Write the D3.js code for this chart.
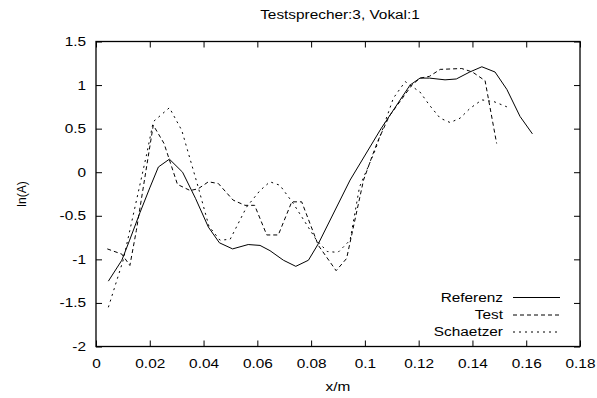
<!DOCTYPE html>
<html><head><meta charset="utf-8">
<script src="https://cdn.jsdelivr.net/npm/d3@7"></script>
<style>body{margin:0;background:#fff}svg{font-family:"Liberation Sans",Arial,sans-serif}</style>
</head><body><svg id="c" width="597" height="398"></svg>
<script>
const title = "Testsprecher:3, Vokal:1";
const xLabel = "x/m";
const yLabel = "ln(A)";
const xTicks = [0,0.02,0.04,0.06,0.08,0.1,0.12,0.14,0.16,0.18];
const yTicks = [-2,-1.5,-1,-0.5,0,0.5,1,1.5];
const seriesNames = ["Referenz","Test","Schaetzer"];
const referenzX = [0.0046,0.0096,0.0125,0.0164,0.0200,0.0232,0.0273,0.0322,0.0370,0.0418,0.0459,0.0508,0.0566,0.0610,0.0647,0.0697,0.0743,0.0790,0.0827,0.0945,0.1060,0.1168,0.1205,0.1240,0.1298,0.1340,0.1390,0.1435,0.1484,0.1528,0.1577,0.1623];
const referenzY = [-1.25,-1.01,-0.78,-0.46,-0.18,0.06,0.15,0.0,-0.30,-0.63,-0.81,-0.88,-0.83,-0.84,-0.90,-1.01,-1.08,-1.01,-0.82,-0.09,0.50,1.00,1.08,1.08,1.06,1.07,1.15,1.21,1.15,0.95,0.64,0.44];
const testX = [0.0042,0.0096,0.0126,0.0150,0.0213,0.0253,0.0303,0.0350,0.0380,0.0418,0.0455,0.0510,0.0554,0.0590,0.0635,0.0678,0.0728,0.0765,0.0827,0.0893,0.0932,0.0995,0.1030,0.1050,0.1090,0.1175,0.1205,0.1240,0.1280,0.1360,0.1400,0.1447,0.1490];
const testY = [-0.88,-0.94,-1.07,-0.67,0.54,0.33,-0.14,-0.21,-0.19,-0.11,-0.13,-0.32,-0.38,-0.38,-0.72,-0.72,-0.34,-0.34,-0.84,-1.13,-0.99,-0.09,0.21,0.37,0.64,1.00,1.08,1.10,1.18,1.19,1.15,1.05,0.33];
const schaetzerX = [0.0046,0.0102,0.0188,0.0213,0.0273,0.0319,0.0380,0.0420,0.0461,0.0499,0.0560,0.0610,0.0647,0.0684,0.0734,0.0820,0.0860,0.0900,0.0945,0.0980,0.1038,0.1106,0.1150,0.1168,0.1205,0.1240,0.1280,0.1317,0.1354,0.1390,0.1435,0.1480,0.1528];
const schaetzerY = [-1.55,-1.0,0.2,0.58,0.74,0.48,-0.17,-0.62,-0.78,-0.77,-0.40,-0.21,-0.11,-0.15,-0.36,-0.78,-0.91,-0.92,-0.78,-0.17,0.25,0.85,1.04,1.00,0.92,0.77,0.62,0.57,0.62,0.73,0.83,0.81,0.75];

const svg = d3.select("#c");
const L=96, R=580, T=41.5, B=346.5;
const x = d3.scaleLinear().domain([0,0.18]).range([L,R]);
const y = d3.scaleLinear().domain([-2,1.5]).range([B,T]);
const fmt = d => String(+d.toFixed(2)).replace("\u2212","-");
const fs = "12.5px";
const K = 1.23; // horizontal stretch of text in the reference

function stretch(sel){
  sel.each(function(){
    const t = d3.select(this);
    const xv = +(t.attr("x")||0);
    t.attr("x", xv/K).attr("transform", `scale(${K},1)`);
  });
}
const ax = (g) => { g.select(".domain").remove(); g.selectAll("line").attr("stroke","#000"); g.selectAll("text").attr("font-size",fs).attr("fill","#000").attr("font-family","Liberation Sans, Arial, sans-serif").call(stretch); };
svg.append("g").attr("transform",`translate(0,${B})`).call(d3.axisBottom(x).tickValues(xTicks).tickSize(-6).tickPadding(13).tickFormat(fmt)).call(ax);
svg.append("g").attr("transform",`translate(0,${T})`).call(d3.axisTop(x).tickValues(xTicks).tickSize(-6).tickFormat("")).call(ax);
svg.append("g").attr("transform",`translate(${L},0)`).call(d3.axisLeft(y).tickValues(yTicks).tickSize(-6).tickPadding(10).tickFormat(fmt)).call(ax);
svg.append("g").attr("transform",`translate(${R},0)`).call(d3.axisRight(y).tickValues(yTicks).tickSize(-6).tickFormat("")).call(ax);
svg.append("rect").attr("x",L).attr("y",T).attr("width",R-L).attr("height",B-T).attr("fill","none").attr("stroke","#000").attr("stroke-width",1.3);

const styles = [null,"4,3","2,4"];
const data = [[referenzX,referenzY],[testX,testY],[schaetzerX,schaetzerY]];
const line = d3.line().x(d=>x(d[0])).y(d=>y(d[1]));
data.forEach((s,i)=>{
  const pts = s[0].map((v,j)=>[v,s[1][j]]);
  svg.append("path").datum(pts).attr("d",line).attr("fill","none").attr("stroke","#000").attr("stroke-width",1)
    .attr("stroke-dasharray",styles[i]);
});
function label(xp, yp, txt, anchor){
  svg.append("g").attr("transform",`translate(${xp},${yp}) scale(${K},1)`)
    .append("text").attr("dy","0.35em").attr("text-anchor",anchor).attr("font-size",fs).text(txt);
}
// legend
const legY = [297.5,315,332];
seriesNames.forEach((n,i)=>{
  label(503, legY[i], n, "end");
  svg.append("line").attr("x1",513).attr("x2",560).attr("y1",legY[i]).attr("y2",legY[i]).attr("stroke","#000").attr("stroke-width",1).attr("stroke-dasharray",styles[i]);
});
label(340, 15, title, "middle");
label(338, 387, xLabel, "middle");
svg.append("text").attr("transform","translate(22,194) rotate(-90)").attr("dy","0.35em").attr("text-anchor","middle").attr("font-size","12px").text(yLabel);
</script></body></html>
